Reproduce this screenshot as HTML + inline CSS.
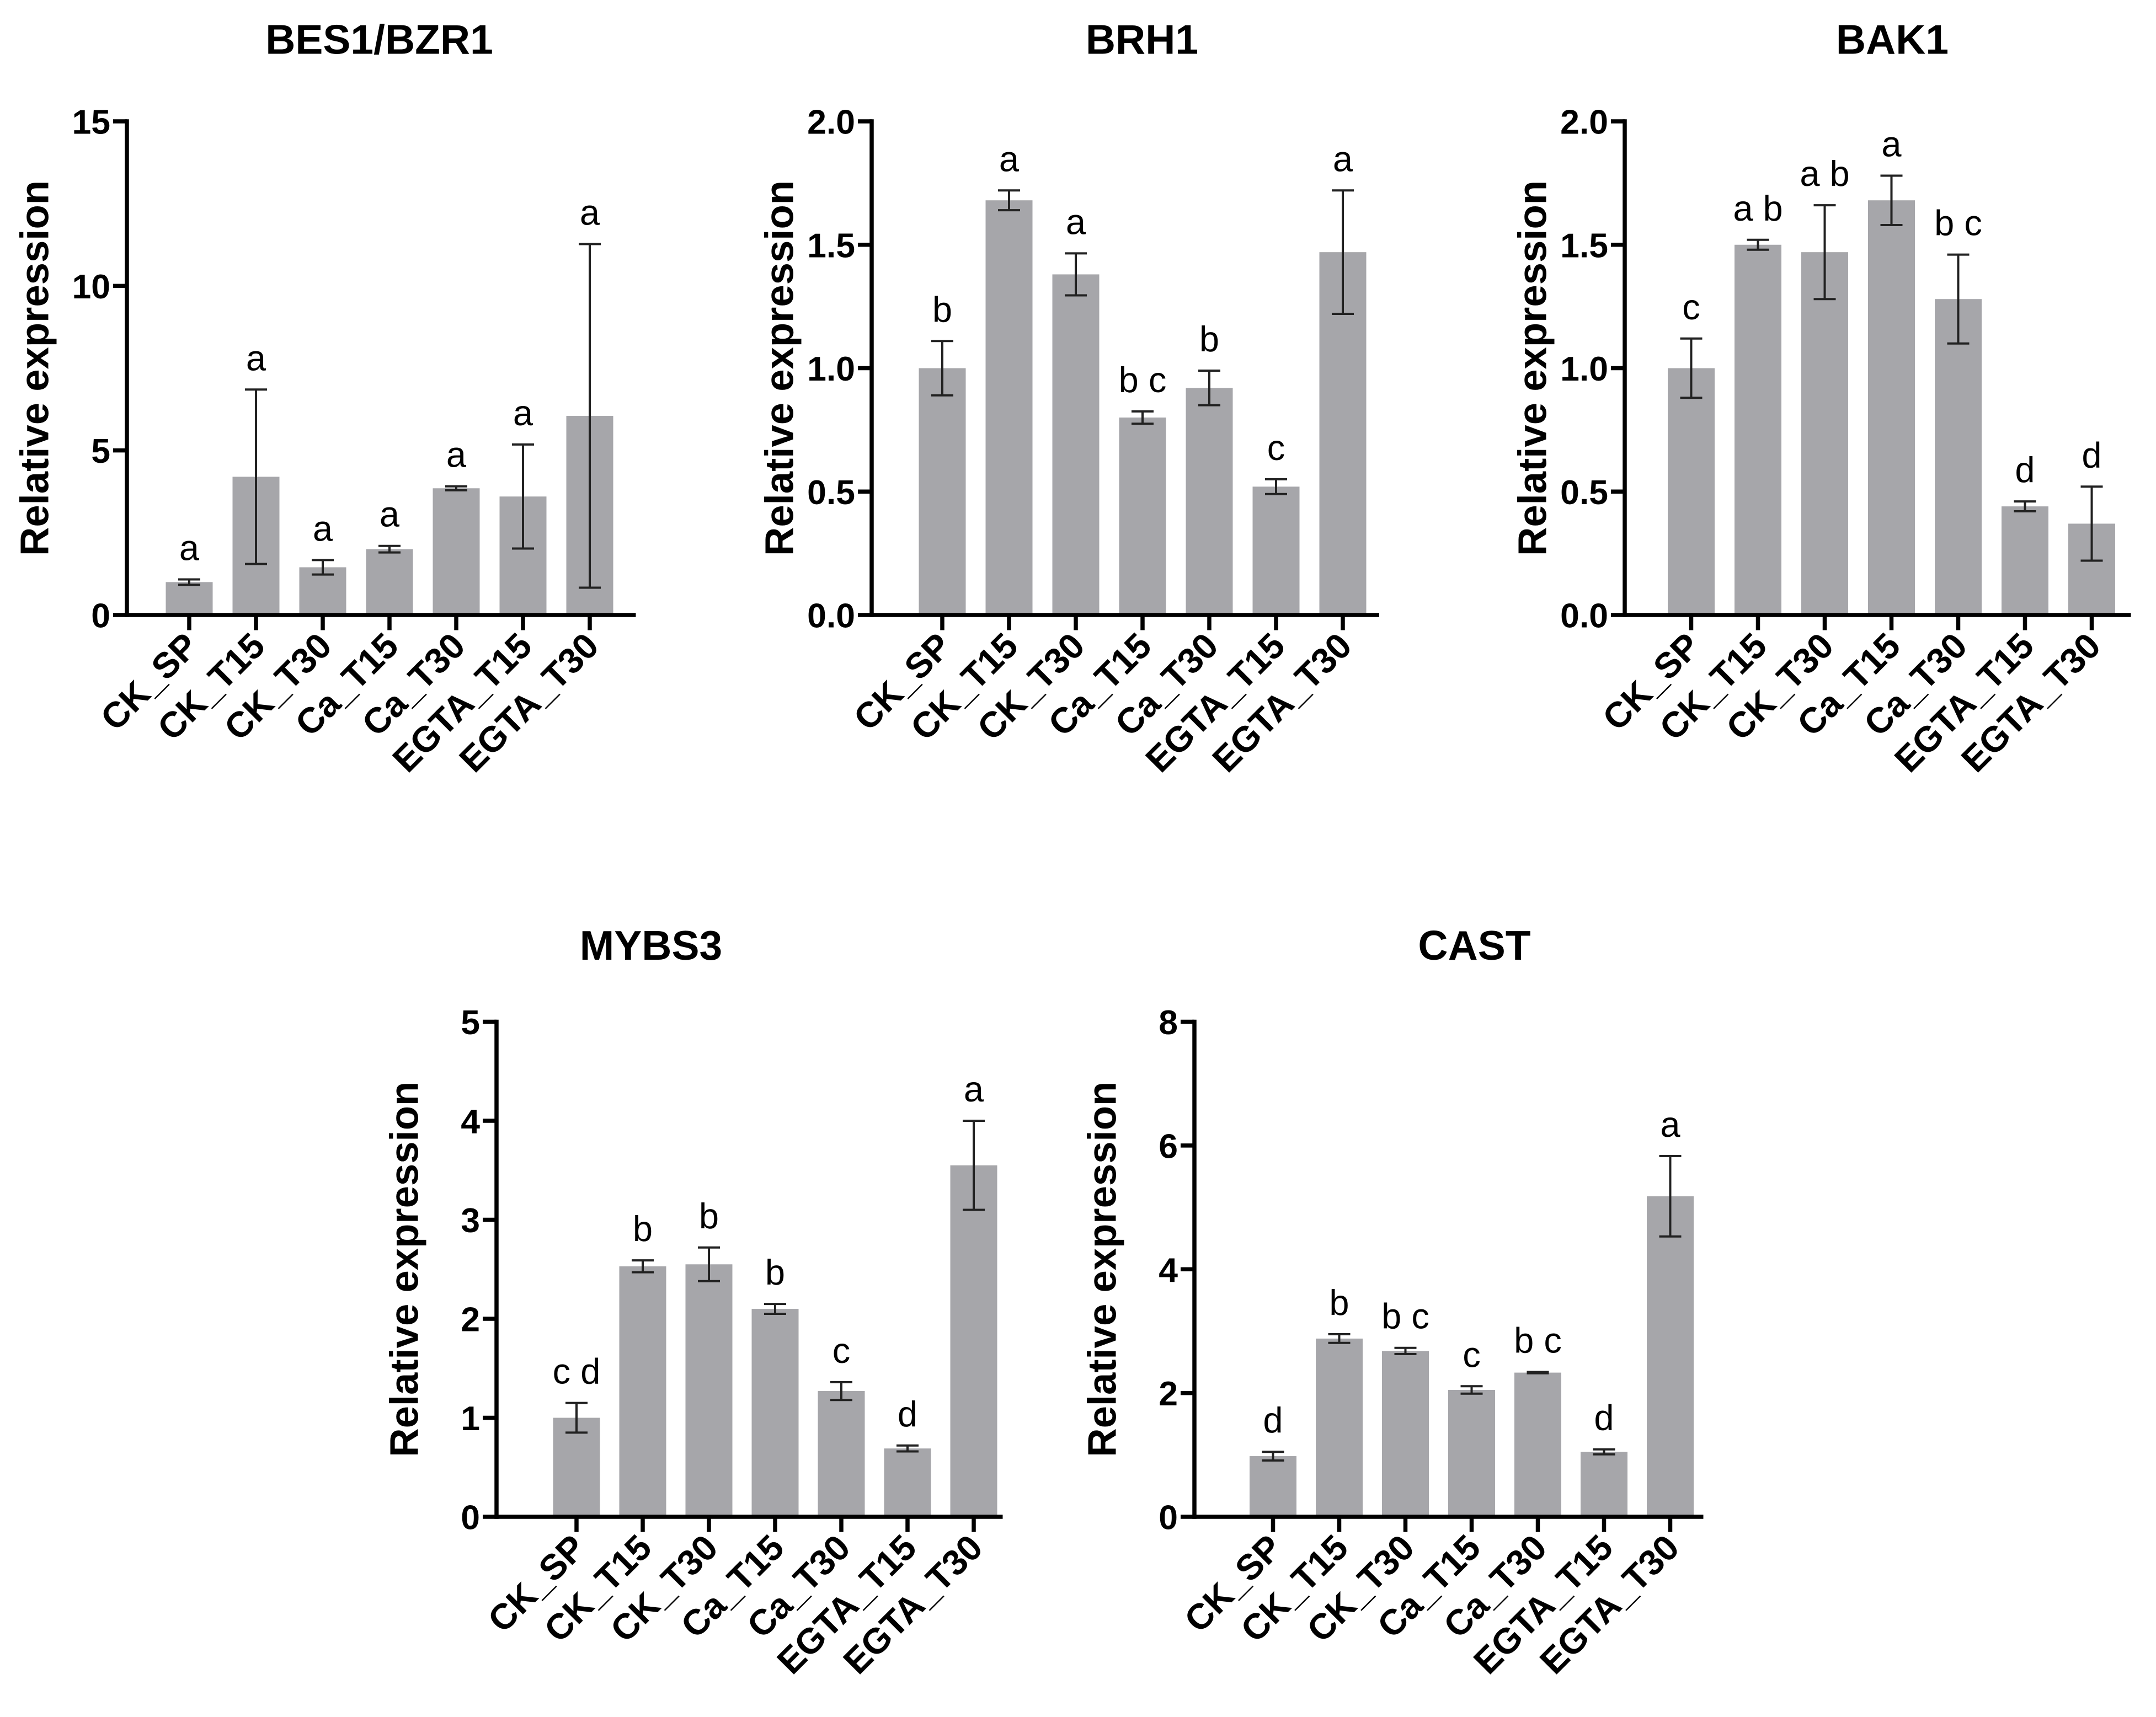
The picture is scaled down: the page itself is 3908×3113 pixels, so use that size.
<!DOCTYPE html>
<html><head><meta charset="utf-8"><style>
html,body{margin:0;padding:0;background:#fff}
svg{display:block}
text{font-family:"Liberation Sans",Arial,sans-serif}
</style></head><body>
<svg id="fig" width="3908" height="3113" viewBox="0 0 1563.2 1245.2" xmlns="http://www.w3.org/2000/svg"></svg>
<script>
const categories=["CK_SP","CK_T15","CK_T30","Ca_T15","Ca_T30","EGTA_T15","EGTA_T30"];
const besVals=[1.0,4.2,1.45,2.0,3.85,3.6,6.05];
const besErr=[0.08,2.65,0.22,0.1,0.06,1.58,5.22];
const besLetters=["a","a","a","a","a","a","a"];
const besTicks=[0,5,10,15];
const brhVals=[1.0,1.68,1.38,0.8,0.92,0.52,1.47];
const brhErr=[0.11,0.04,0.085,0.025,0.07,0.03,0.25];
const brhLetters=["b","a","a","b c","b","c","a"];
const brhTicks=[0,0.5,1.0,1.5,2.0];
const bakVals=[1.0,1.5,1.47,1.68,1.28,0.44,0.37];
const bakErr=[0.12,0.02,0.19,0.1,0.18,0.02,0.15];
const bakLetters=["c","a b","a b","a","b c","d","d"];
const bakTicks=[0,0.5,1.0,1.5,2.0];
const mybVals=[1.0,2.53,2.55,2.1,1.27,0.69,3.55];
const mybErr=[0.15,0.06,0.17,0.05,0.09,0.03,0.45];
const mybLetters=["c d","b","b","b","c","d","a"];
const mybTicks=[0,1,2,3,4,5];
const casVals=[0.98,2.88,2.68,2.05,2.33,1.05,5.18];
const casErr=[0.07,0.07,0.05,0.06,0.01,0.04,0.65];
const casLetters=["d","b","b c","c","b c","d","a"];
const casTicks=[0,2,4,6,8];

const NS="http://www.w3.org/2000/svg";
const svg=document.getElementById('fig');
function mk(tag,attrs,parent){const e=document.createElementNS(NS,tag);for(const k in attrs)e.setAttribute(k,attrs[k]);(parent||svg).appendChild(e);return e;}

function panel(cfg){
  const g=mk('g',{});
  
  
  const y=v=>cfg.y0-(v/cfg.max)*(cfg.y0-cfg.ytop);
  const x=i=>cfg.x0+(i+0.5)*cfg.step;
  const t=mk('text',{x:cfg.tx,y:cfg.ty,'text-anchor':'middle','font-size':30,'font-weight':'bold'},g);
  t.textContent=cfg.title;
  
  
  const yl=mk('text',{transform:`translate(${cfg.ax-57},${(cfg.y0+cfg.ytop)/2}) rotate(-90)`,'text-anchor':'middle','font-size':29,'font-weight':'bold'},g);
  yl.textContent='Relative expression';
  
  
  cfg.vals.forEach((v,i)=>{
    const cx=x(i);
    const b=mk('rect',{x:cx-17,y:y(v),width:34,height:cfg.y0-y(v),fill:'#a6a6aa'},g);
    
    
    const e=cfg.err[i],hi=y(v+e),lo=y(Math.max(0,v-e));
    const eb=mk('path',{d:`M${cx},${hi}V${lo}M${cx-8},${hi}H${cx+8}M${cx-8},${lo}H${cx+8}`,stroke:'#222','stroke-width':1.6,fill:'none'},g);
    
    
    const l=mk('text',{x:cx,y:hi-14,'text-anchor':'middle','font-size':26},g);
    l.textContent=cfg.letters[i];
    
    
    mk('line',{x1:cx,x2:cx,y1:cfg.y0,y2:cfg.y0+11,stroke:'#000','stroke-width':3},g);
    const xl=mk('text',{transform:`translate(${cx+8},${cfg.y0+24}) rotate(-45)`,'text-anchor':'end','font-size':26,'font-weight':'bold'},g);
    xl.textContent=categories[i];
    
    
  });
  cfg.ticks.forEach(tv=>{
    const ty=y(tv);
    mk('line',{x1:cfg.ax-10,x2:cfg.ax,y1:ty,y2:ty,stroke:'#000','stroke-width':3},g);
    const tl=mk('text',{x:cfg.ax-12,y:ty+9,'text-anchor':'end','font-size':25,'font-weight':'bold'},g);
    tl.textContent=cfg.fmt?tv.toFixed(1):String(tv);
    
    
  });
  const ya=mk('line',{x1:cfg.ax,x2:cfg.ax,y1:cfg.ytop-1.5,y2:cfg.y0+1.5,stroke:'#000','stroke-width':3},g);
  
  
  const xa=mk('line',{x1:cfg.ax,x2:cfg.xend,y1:cfg.y0,y2:cfg.y0,stroke:'#000','stroke-width':3},g);
  
  
}
panel({id:'bes1-bzr1',title:'BES1/BZR1',tx:275,ty:39,ax:92,x0:113,step:48.4,y0:446,ytop:88,max:15,xend:461,vals:besVals,err:besErr,letters:besLetters,ticks:besTicks});
panel({id:'brh1',title:'BRH1',tx:828,ty:39,ax:632,x0:659,step:48.4,y0:446,ytop:88,max:2,xend:1000,vals:brhVals,err:brhErr,letters:brhLetters,ticks:brhTicks,fmt:true});
panel({id:'bak1',title:'BAK1',tx:1372,ty:39,ax:1178,x0:1202,step:48.4,y0:446,ytop:88,max:2,xend:1545,vals:bakVals,err:bakErr,letters:bakLetters,ticks:bakTicks,fmt:true});
panel({id:'mybs3',title:'MYBS3',tx:472,ty:696,ax:360,x0:394,step:48,y0:1100,ytop:741,max:5,xend:727,vals:mybVals,err:mybErr,letters:mybLetters,ticks:mybTicks});
panel({id:'cast',title:'CAST',tx:1069,ty:696,ax:866,x0:899,step:48,y0:1100,ytop:741,max:8,xend:1235,vals:casVals,err:casErr,letters:casLetters,ticks:casTicks});
</script>
</body></html>
